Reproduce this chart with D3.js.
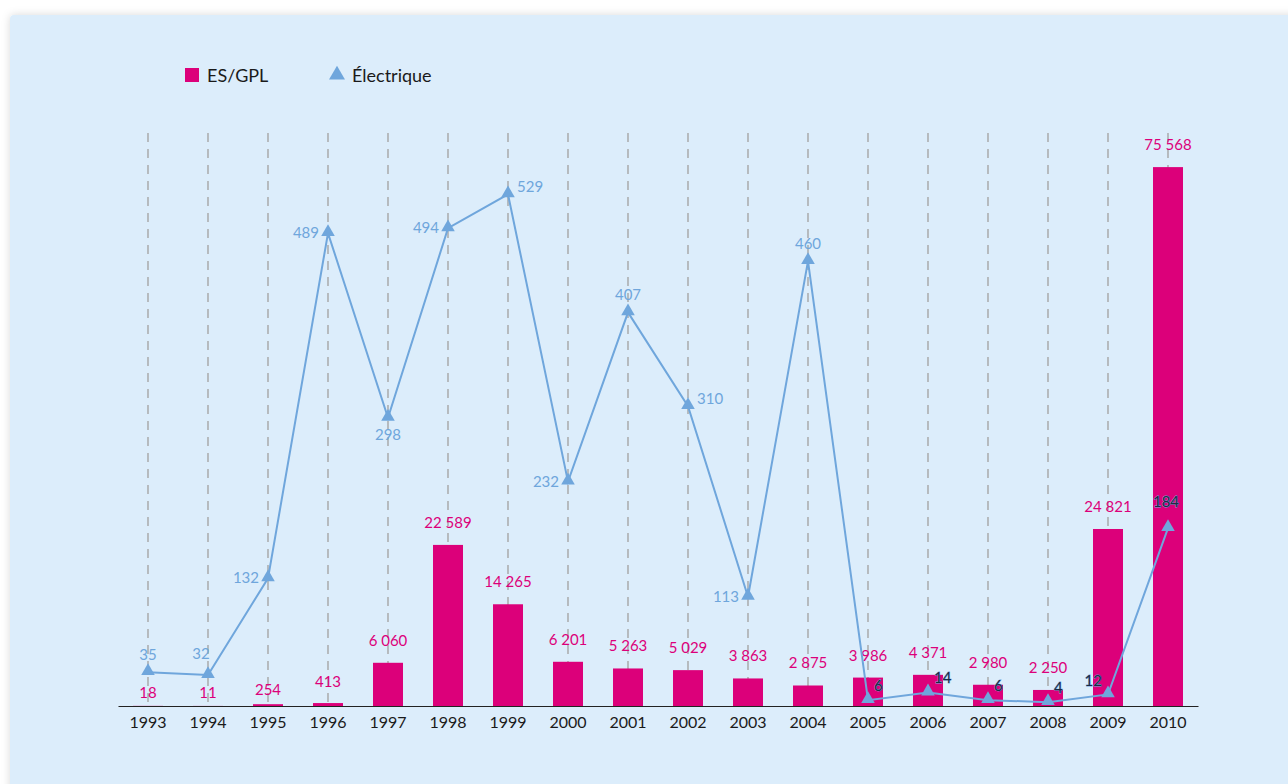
<!DOCTYPE html>
<html><head><meta charset="utf-8">
<script src="https://cdn.jsdelivr.net/npm/d3@7"></script>
<style>
html,body{margin:0;padding:0;background:#fff;overflow:hidden;}
svg{display:block;font-family:Lato,"Open Sans",sans-serif;}
</style></head>
<body>
<svg id="c" width="1288" height="784"></svg>
<script>
const years = ["1993","1994","1995","1996","1997","1998","1999","2000","2001","2002","2003","2004","2005","2006","2007","2008","2009","2010"];
const esgpl = [18,11,254,413,6060,22589,14265,6201,5263,5029,3863,2875,3986,4371,2980,2250,24821,75568];
const electrique = [35,32,132,489,298,494,529,232,407,310,113,460,6,14,6,4,12,184];
const esgplLabels = ["18","11","254","413","6 060","22 589","14 265","6 201","5 263","5 029","3 863","2 875","3 986","4 371","2 980","2 250","24 821","75 568"];
const elecPlacement = ["above","aboveLeft","left","left","below","left","right","left","above","right","left","above","upRight","upRight","upRight","upRight","upLeft","aboveHigh"];
const barLabelGap = [8,8,9,16,17,17,17,17,17,17,17,17,17,17,17,17,17,17];
const seriesNames = ["ES/GPL","Électrique"];

const MAGENTA = "#dc007a", BLUE = "#6fa6dc";
const svg = d3.select("#c");
const defs = svg.append("defs");
const f = defs.append("filter").attr("id","sh").attr("x","-5%").attr("y","-5%").attr("width","110%").attr("height","110%");
f.append("feDropShadow").attr("dx",0).attr("dy",0).attr("stdDeviation",4).attr("flood-color","#000").attr("flood-opacity",0.15);

svg.append("rect").attr("x",10).attr("y",15).attr("width",1290).attr("height",790).attr("rx",4)
  .attr("fill","#dcedfb").attr("filter","url(#sh)");

const x = d3.scaleBand().domain(years).range([118,1198]).paddingInner(0.5).paddingOuter(0.25);
const xc = d => x(d) + x.bandwidth()/2;
const yBar = d3.scaleLinear().domain([0,99000]).range([706,0]);
const yLine = d3.scaleLinear().domain([0,730]).range([706,0]);

// gridlines
svg.append("g").selectAll("line").data(years).join("line")
  .attr("x1",xc).attr("x2",xc).attr("y1",133).attr("y2",706)
  .attr("stroke","#a5a5a5").attr("stroke-width",1.4).attr("stroke-dasharray","9,7");

// bars
svg.append("g").selectAll("rect").data(years).join("rect")
  .attr("x",d=>x(d)).attr("width",x.bandwidth())
  .attr("y",(d,i)=>yBar(esgpl[i])).attr("height",(d,i)=>706-yBar(esgpl[i]))
  .attr("fill",MAGENTA);

// axis
const ax = svg.append("g").attr("transform","translate(0,706)").call(d3.axisBottom(x).tickSize(0).tickPadding(11));
ax.select(".domain").attr("stroke","#222").attr("stroke-width",1.2);
ax.selectAll("text").attr("font-size",16).attr("fill","#1a1a1a").attr("font-family","Lato,sans-serif");

// bar labels
svg.append("g").selectAll("text").data(years).join("text")
  .attr("x",xc).attr("y",(d,i)=>yBar(esgpl[i])-barLabelGap[i])
  .attr("text-anchor","middle").attr("font-size",15).attr("fill",MAGENTA)
  .text((d,i)=>esgplLabels[i]);

// line
const line = d3.line().x(d=>xc(d.y)).y(d=>yLine(d.v));
const pts = years.map((y,i)=>({y,v:electrique[i],i}));
svg.append("path").datum(pts).attr("d",line).attr("fill","none").attr("stroke",BLUE).attr("stroke-width",2);
svg.append("g").selectAll("path").data(pts).join("path")
  .attr("d",d3.symbol(d3.symbolTriangle,80))
  .attr("transform",d=>`translate(${xc(d.y)},${yLine(d.v)-1})`).attr("fill",BLUE);

// line labels
const off = {
  above:[0,-12,"middle"], aboveHigh:[-2,-21,"middle"], aboveLeft:[-7,-16,"middle"], left:[-9,5,"end"], right:[9,-2,"start"],
  below:[0,22,"middle"], upRight:[6,-9,"start"], upLeft:[-6,-8,"end"]
};
const dark = d => d.i >= 12;
svg.append("g").selectAll("text").data(pts).join("text")
  .attr("x",d=>xc(d.y)+off[elecPlacement[d.i]][0])
  .attr("y",d=>yLine(d.v)+off[elecPlacement[d.i]][1])
  .attr("text-anchor",d=>off[elecPlacement[d.i]][2])
  .attr("font-size",15)
  .attr("fill",d=>dark(d)?"#1d2a44":BLUE)
  .attr("stroke",d=>dark(d)?BLUE:"none").attr("stroke-width",0.8).attr("paint-order","stroke")
  .text(d=>d.v);

// legend
const lg = svg.append("g");
lg.append("rect").attr("x",185).attr("y",68).attr("width",14).attr("height",14).attr("fill",MAGENTA);
lg.append("text").attr("x",207).attr("y",82).attr("font-size",18).attr("fill","#1a1a1a").text(seriesNames[0]);
lg.append("path").attr("d",d3.symbol(d3.symbolTriangle,110)).attr("transform","translate(337,75)").attr("fill",BLUE);
lg.append("text").attr("x",352).attr("y",82).attr("font-size",18).attr("fill","#1a1a1a").text(seriesNames[1]);
</script>
</body></html>
